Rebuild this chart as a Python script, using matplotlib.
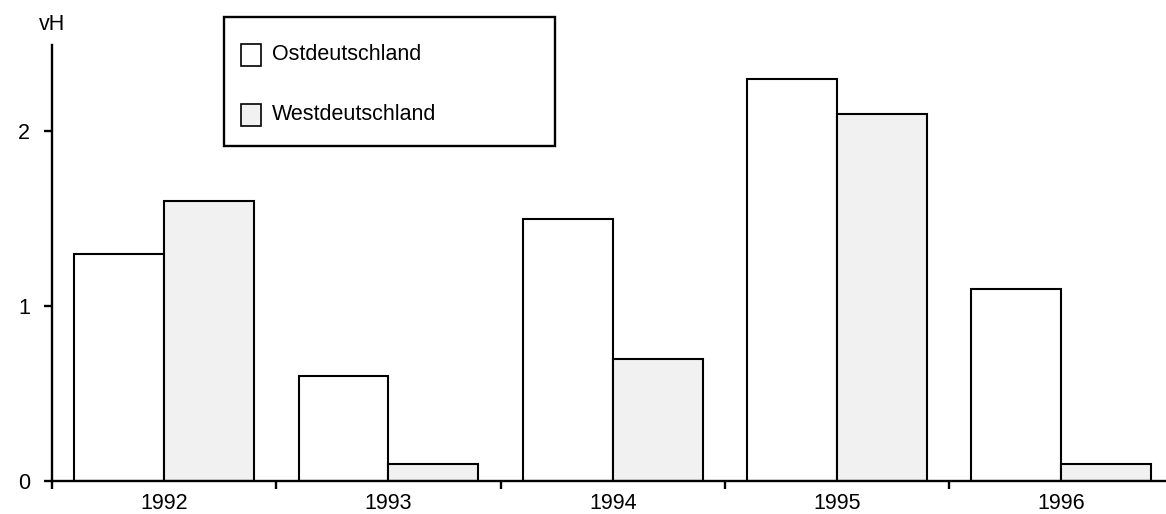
import matplotlib
matplotlib.use("Agg")
import matplotlib.pyplot as plt
from matplotlib.patches import Rectangle
import numpy as np

years = ["1992", "1993", "1994", "1995", "1996"]
ost = [1.3, 0.6, 1.5, 2.3, 1.1]
west = [1.6, 0.1, 0.7, 2.1, 0.1]
series_names = ["Ostdeutschland", "Westdeutschland"]
yticks = [0, 1, 2]

plt.rcParams['font.family'] = ['Liberation Sans', 'DejaVu Sans']

W, H = 1166, 514
fig = plt.figure(figsize=(W / 100, H / 100), dpi=100)
ax_l, ax_r, ax_t, ax_b = 52, 1166, 45, 481
ax = fig.add_axes([ax_l / W, (H - ax_b) / H, (ax_r - ax_l) / W, (ax_b - ax_t) / H])

FS = 15.5
x = np.arange(len(years))
bw = 0.401
ost_style = dict(facecolor="white", edgecolor="black", linewidth=1.5)
west_style = dict(facecolor="#f1f1f1", edgecolor="black", linewidth=1.5)
ax.bar(x - bw / 2, ost, width=bw, **ost_style, zorder=2)
ax.bar(x + bw / 2, west, width=bw, **west_style, zorder=2)

ax.set_xlim(-0.5, -0.5 + (ax_r - ax_l) / 224.3)
ax.set_ylim(0, (ax_b - ax_t) / 175)

for s in ["top", "right"]:
    ax.spines[s].set_visible(False)
for s in ["left", "bottom"]:
    ax.spines[s].set_linewidth(1.7)

ax.set_xticks(x)
ax.set_xticklabels(years, fontsize=FS)
ax.tick_params(axis="x", which="major", length=0, pad=8.5)
ax.set_xticks(np.arange(len(years)) - 0.5, minor=True)
ax.tick_params(axis="x", which="minor", length=6, width=1.7, direction="out")

ax.set_yticks(yticks)
ax.set_yticklabels([str(v) for v in yticks], fontsize=FS)
ax.tick_params(axis="y", length=6, width=1.7, direction="out", pad=10)

fig.text(52 / W, (H - 25) / H, "vH", fontsize=FS, ha="center", va="center")

# legend (drawn manually to match the boxed layout)
lx0, lx1, ly0, ly1 = 224, 555, 17, 146
fig.patches.append(Rectangle((lx0 / W, (H - ly1) / H), (lx1 - lx0) / W, (ly1 - ly0) / H,
                             transform=fig.transFigure, facecolor="white",
                             edgecolor="black", linewidth=1.7, zorder=5))
for name, style, yc in zip(series_names, [ost_style, west_style], [55, 115]):
    fig.patches.append(Rectangle((241 / W, (H - yc - 11) / H), 20 / W, 22 / H,
                                 transform=fig.transFigure, zorder=6,
                                 **{**style, "linewidth": 1.2}))
    fig.text(272 / W, (H - yc) / H, name, fontsize=FS, ha="left", va="center", zorder=7)

fig.savefig("out.png", dpi=100)
